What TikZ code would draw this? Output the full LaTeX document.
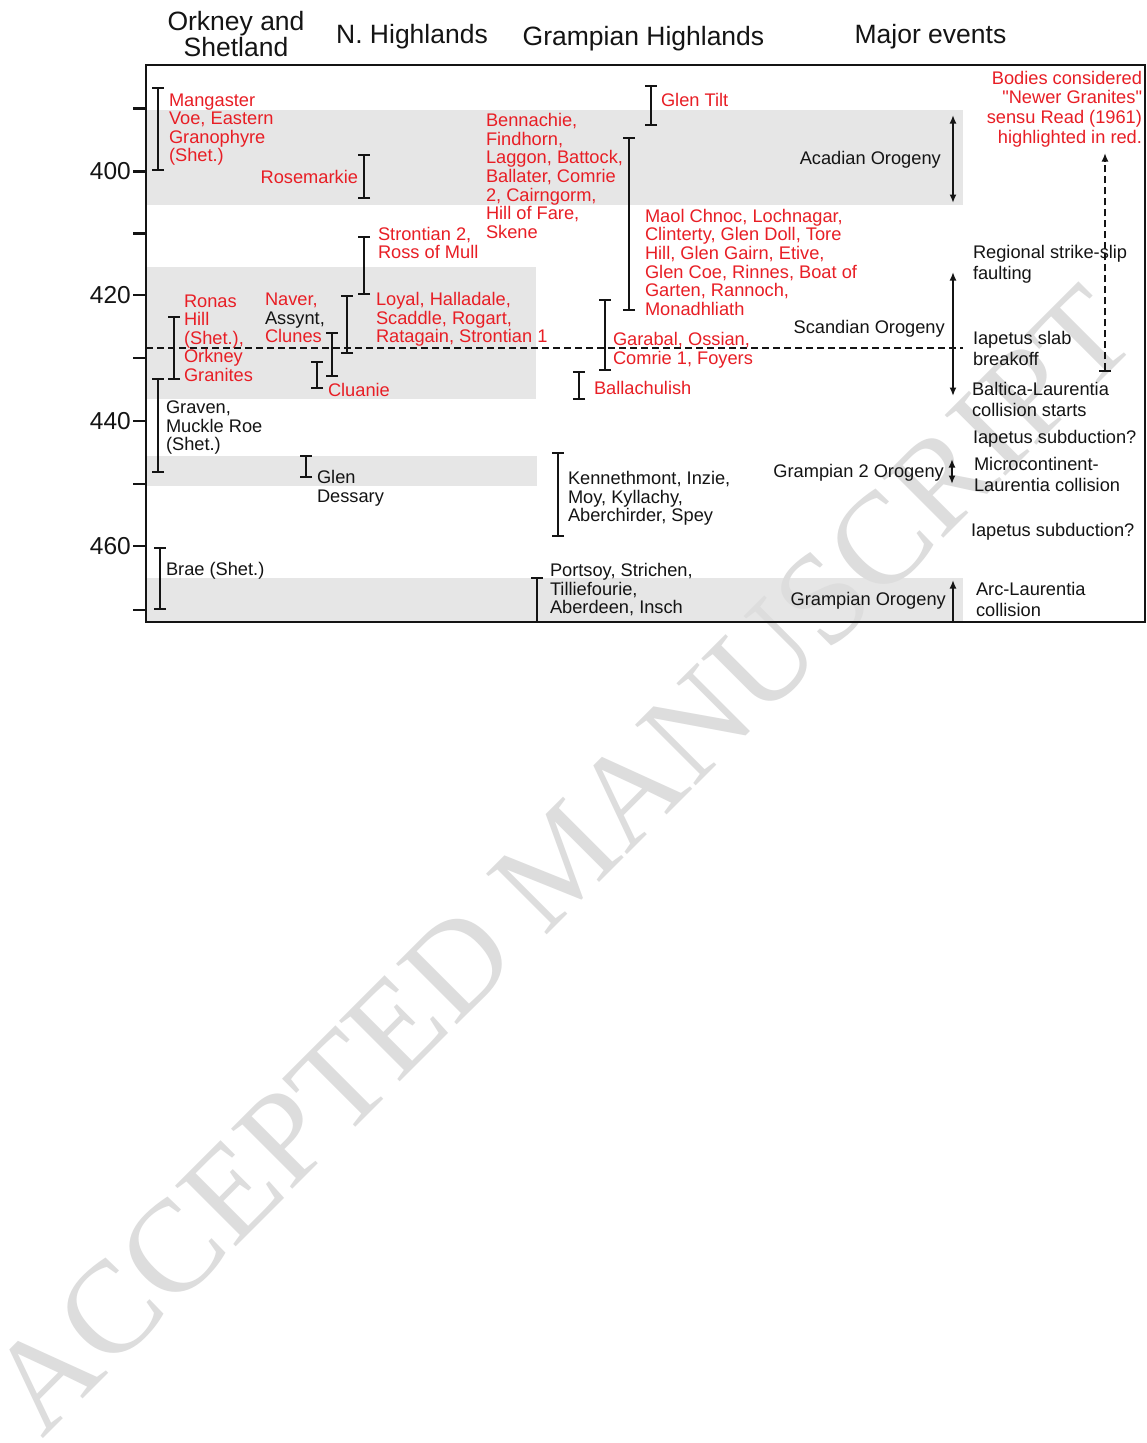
\documentclass[tikz,border=0pt]{standalone}
\usepackage{fontspec}
\setmainfont{Liberation Sans}
\newfontfamily\qfont{Liberation Sans}
\newfontfamily\wmfont{Liberation Serif}
\usetikzlibrary{arrows.meta}
\definecolor{nred}{RGB}{232,30,37}
\definecolor{band}{RGB}{230,230,230}
\definecolor{ink}{RGB}{20,20,20}
\definecolor{wmgray}{RGB}{221,221,221}
\begin{document}
\begin{tikzpicture}[x=1pt,y=-1pt,
  lbl/.style={inner sep=0pt, outer sep=0pt, font=\fontsize{18.25}{18.6}\selectfont, text=ink, align=left, anchor=north west},
  rl/.style={lbl, text=nred},
  ev/.style={lbl, font=\fontsize{18.25}{21}\selectfont},
  orog/.style={inner sep=0pt, font=\fontsize{18.25}{21}\selectfont, text=ink, anchor=north east},
  hdr/.style={inner sep=0pt, font=\fontsize{26.5}{26.5}\selectfont, text=ink, align=center},
  ax/.style={inner sep=0pt, font=\fontsize{24.5}{25}\selectfont, text=ink, anchor=east},
  rangebar/.style={line width=2.4pt, draw=ink, {Bar[width=12pt,line width=2.4pt]}-{Bar[width=12pt,line width=2.4pt]}},
  rangetop/.style={line width=2.4pt, draw=ink, {Bar[width=12pt,line width=2.4pt]}-},
  evarrow/.style={line width=1.8pt, draw=ink, {Latex[length=8.5pt,width=7pt]}-{Latex[length=8.5pt,width=7pt]}},
  evup/.style={line width=1.8pt, draw=ink, -{Latex[length=8.5pt,width=7pt]}},
  tickmark/.style={line width=2.2pt, draw=ink},
  bandfill/.style={fill=band, draw=none},
  dashline/.style={line width=2pt, draw=ink, dash pattern=on 7pt off 4pt},
]
\fill[white] (0,0) rectangle (1147,1443);
\useasboundingbox (0,0) rectangle (1147,1443);

% grey bands
\fill[bandfill] (146,110) rectangle (963,205);
\fill[bandfill] (146,267) rectangle (536,399);
\fill[bandfill] (146,456) rectangle (537,486);
\fill[bandfill] (146,578) rectangle (963,622);

% watermark
\node[rotate=45, text=wmgray, inner sep=0pt, font=\wmfont\fontsize{131}{131}\selectfont] (wm) at (562,860)
  {ACCEPTED MANUSCRIPT};

% frame
\draw[line width=2.4pt, ink] (146,65) rectangle (1145,622);

% axis ticks and labels
\foreach \yy in {108.5,171.5,233.5,295,358,421,484,546,610}
  \draw[tickmark] (133,\yy) -- (147,\yy);
\node[ax] (a400) at (131,171.5) {400};
\node[ax] (a420) at (131,295) {420};
\node[ax] (a440) at (131,421) {440};
\node[ax] (a460) at (131,546) {460};

% headers
\node[hdr, anchor=north] (h1) at (236,11) {Orkney and\\Shetland};
\node[hdr, anchor=base] (h2) at (412,43) {N. Highlands};
\node[hdr, anchor=base] (h3) at (643.5,45) {Grampian Highlands};
\node[hdr, anchor=base] (h4) at (930.5,43) {Major events};

% dashed horizontal line
\draw[dashline] (146,347.5) -- (963,347.5);

% range bars
\draw[rangebar] (158,87) -- (158,171);
\draw[rangebar] (364,154) -- (364,199);
\draw[rangebar] (174,316) -- (174,380);
\draw[rangebar] (158,378) -- (158,473);
\draw[rangebar] (160,547) -- (160,610);
\draw[rangebar] (332,332) -- (332,377);
\draw[rangebar] (317,361) -- (317,389);
\draw[rangebar] (347,295) -- (347,354);
\draw[rangebar] (364,236) -- (364,295);
\draw[rangebar] (306,455) -- (306,478);
\draw[rangebar] (651,85) -- (651,126);
\draw[rangebar] (629,137) -- (629,311);
\draw[rangebar] (605,299) -- (605,371);
\draw[rangebar] (579,371) -- (579,400);
\draw[rangebar] (558,452) -- (558,537);
\draw[rangetop] (537,577) -- (537,622);

% Orkney and Shetland
\node[rl] (mang) at (169,93.5) {Mangaster\\Voe, Eastern\\Granophyre\\(Shet.)};
\node[rl, anchor=north east, align=right] (rose) at (358,170.5) {Rosemarkie};
\node[rl] (ronas) at (184,294.5) {Ronas\\Hill\\(Shet.),\\Orkney\\Granites};
\node[lbl] (grav) at (166,401) {Graven,\\Muckle Roe\\(Shet.)};
\node[lbl] (brae) at (166,562) {Brae (Shet.)};

% N. Highlands
\node[lbl] (naver) at (265,293) {\textcolor{nred}{Naver,}\\Assynt,\\\textcolor{nred}{Clunes}};
\node[rl] (cluanie) at (328,383.5) {Cluanie};
\node[rl] (loyal) at (376,292.5) {Loyal, Halladale,\\Scaddle, Rogart,\\Ratagain, Strontian 1};
\node[rl] (stron) at (378,227) {Strontian 2,\\Ross of Mull};
\node[lbl] (dess) at (317,470.5) {Glen\\Dessary};

% Grampian Highlands
\node[rl] (benn) at (486,113.5) {Bennachie,\\Findhorn,\\Laggon, Battock,\\Ballater, Comrie\\2, Cairngorm,\\Hill of Fare,\\Skene};
\node[rl] (tilt) at (661,93.5) {Glen Tilt};
\node[rl] (maol) at (645,209) {Maol Chnoc, Lochnagar,\\Clinterty, Glen Doll, Tore\\Hill, Glen Gairn, Etive,\\Glen Coe, Rinnes, Boat of\\Garten, Rannoch,\\Monadhliath};
\node[rl] (gara) at (613,332.5) {Garabal, Ossian,\\Comrie 1, Foyers};
\node[rl] (balla) at (594,381.5) {Ballachulish};
\node[lbl] (kenn) at (568,471.5) {Kennethmont, Inzie,\\Moy, Kyllachy,\\Aberchirder, Spey};
\node[lbl] (port) at (550,563.5) {Portsoy, Strichen,\\Tilliefourie,\\Aberdeen, Insch};

% Major events
\node[rl, anchor=north east, align=right, font=\qfont\fontsize{18.25}{19.6}\selectfont] (bodies) at (1142,71)
  {Bodies considered\\"Newer Granites"\\sensu Read (1961)\\highlighted in red.};
\node[orog] (acad) at (941,151.5) {Acadian Orogeny};
\node[orog] (scand) at (945,320.5) {Scandian Orogeny};
\node[orog] (gram2) at (944,464.5) {Grampian 2 Orogeny};
\node[orog] (gram) at (946,592.5) {Grampian Orogeny};
\node[ev] (regio) at (973,245.5) {Regional strike-slip\\faulting};
\node[ev] (slab) at (973,331.5) {Iapetus slab\\breakoff};
\node[ev] (balt) at (972,382.5) {Baltica-Laurentia\\collision starts};
\node[ev] (sub1) at (973,430.5) {Iapetus subduction?};
\node[ev] (micro) at (974,457.5) {Microcontinent-\\Laurentia collision};
\node[ev] (sub2) at (971,523.5) {Iapetus subduction?};
\node[ev] (arc) at (976,582.5) {Arc-Laurentia\\collision};

% event arrows
\draw[evarrow] (953,115) -- (953,203);
\draw[evarrow] (953,272) -- (953,396);
\draw[evarrow] (952,459) -- (952,484);
\draw[evup] (953,622) -- (953,580);
\draw[line width=2.2pt, draw=ink, dash pattern=on 7pt off 4pt, {Bar[width=12pt,line width=2.2pt]}-{Latex[length=8.5pt,width=7pt]}] (1105,372) -- (1105,153);
\end{tikzpicture}
\end{document}
